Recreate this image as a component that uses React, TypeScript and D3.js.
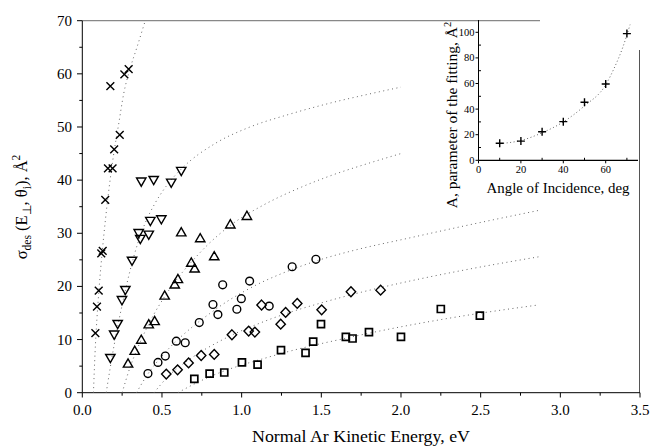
import React from "react";
import * as d3 from "d3";

// ---------- data ----------
const crossE = [0.082, 0.092, 0.103, 0.119, 0.128, 0.144, 0.161, 0.19, 0.2, 0.235, 0.176, 0.264, 0.291];
const crossS = [11.2, 16.2, 19.2, 26.2, 26.7, 36.3, 42.2, 42.2, 45.8, 48.5, 57.7, 59.9, 60.9];

const invTriE = [0.176, 0.2, 0.222, 0.249, 0.27, 0.312, 0.354, 0.364, 0.417, 0.427, 0.496, 0.37, 0.448, 0.558, 0.621];
const invTriS = [6.5, 10.9, 12.9, 17.4, 19.3, 24.8, 30.0, 28.9, 29.7, 32.3, 32.6, 39.7, 40.0, 39.5, 41.7];

const triE = [0.287, 0.329, 0.37, 0.417, 0.454, 0.517, 0.58, 0.6, 0.621, 0.684, 0.705, 0.74, 0.828, 0.929, 1.033];
const triS = [5.5, 7.9, 10.0, 12.9, 13.5, 18.3, 20.4, 21.4, 30.2, 24.5, 23.4, 29.1, 25.7, 31.7, 33.3];

const circE = [0.412, 0.475, 0.521, 0.59, 0.646, 0.734, 0.82, 0.851, 0.881, 0.97, 0.998, 1.05, 1.173, 1.317, 1.466];
const circS = [3.6, 5.7, 6.9, 9.7, 9.4, 13.2, 16.6, 14.7, 20.3, 15.7, 17.7, 21.0, 16.3, 23.7, 25.1];

const diaE = [0.527, 0.598, 0.667, 0.746, 0.828, 0.939, 1.044, 1.083, 1.125, 1.245, 1.276, 1.349, 1.502, 1.686, 1.872];
const diaS = [3.5, 4.3, 5.6, 7.0, 7.2, 10.9, 11.6, 11.4, 16.5, 12.9, 15.1, 16.8, 15.6, 19.0, 19.3];

const sqE = [0.703, 0.799, 0.891, 1.002, 1.1, 1.247, 1.401, 1.449, 1.498, 1.654, 1.696, 1.799, 2.0, 2.25, 2.495];
const sqS = [2.6, 3.6, 3.8, 5.7, 5.3, 8.0, 7.5, 9.6, 12.9, 10.5, 10.2, 11.4, 10.5, 15.75, 14.5];

// fitted curves (dotted)
const fitCrossE = [0.07, 0.08, 0.092, 0.105, 0.125, 0.145, 0.166, 0.195, 0.228, 0.26, 0.3, 0.343, 0.395];
const fitCrossS = [0, 7.5, 14, 19.5, 26.5, 32.5, 38, 44.5, 50.5, 56.3, 61, 65, 70];
const fitInvTriE = [0.15, 0.2, 0.25, 0.3, 0.35, 0.4, 0.45, 0.525, 0.625, 0.834, 1.044, 1.3, 1.556, 1.8, 2.0];
const fitInvTriS = [0, 9, 16.5, 23, 28.3, 32.3, 35.3, 38.8, 42.2, 46.9, 49.9, 52.4, 54.5, 56.2, 57.5];
const fitTriE = [0.25, 0.3, 0.35, 0.4, 0.45, 0.5, 0.6, 0.7, 0.8, 0.93, 1.136, 1.345, 1.555, 1.8, 2.0];
const fitTriS = [0, 4.8, 8.6, 11.9, 14.8, 17.3, 21.6, 25.1, 28.2, 31.5, 35.3, 38.3, 40.8, 43.2, 45];
const fitCircE = [0.34, 0.4, 0.5, 0.6, 0.7, 0.8, 0.9, 1.0, 1.1, 1.25, 1.49, 1.72, 2.035, 2.4, 2.88];
const fitCircS = [0, 3, 6.9, 10, 12.6, 14.9, 17.0, 18.8, 20.4, 22.4, 25.0, 26.9, 29.0, 31.4, 34.4];
const fitDiaE = [0.45, 0.55, 0.65, 0.75, 0.85, 0.95, 1.115, 1.3, 1.5, 1.75, 1.993, 2.4, 2.87];
const fitDiaS = [0, 3.4, 5.8, 7.8, 9.5, 11.0, 13.1, 15.1, 16.9, 18.9, 20.6, 23.1, 25.6];
const fitSqE = [0.6, 0.7, 0.8, 0.9, 1.0, 1.135, 1.3, 1.45, 1.6, 1.8, 2.0, 2.4, 2.86];
const fitSqS = [0, 1.6, 3.0, 4.2, 5.2, 6.4, 7.8, 8.9, 9.9, 11.2, 12.4, 14.5, 16.5];

// inset
const incAngle = [10, 20, 30, 40, 50, 60, 70];
const incA = [13.3, 15, 22.3, 30.2, 45.3, 59.6, 99];
const fitAngle = [10, 20, 30, 40, 50, 60, 64, 68, 71.5];
const fitA = [13, 15.5, 21.5, 30, 42.5, 59, 72, 88, 106];

const xTicks = [0, 0.5, 1, 1.5, 2, 2.5, 3, 3.5];
const yTicks = [0, 10, 20, 30, 40, 50, 60, 70];
const insetXTicks = [0, 20, 40, 60];
const insetYTicks = [0, 20, 40, 60, 80, 100];

// ---------- layout ----------
const W = 650, H = 446;
const x = d3.scaleLinear().domain([0, 3.5]).range([82.3, 640]);
const y = d3.scaleLinear().domain([0, 70]).range([392.7, 20.7]);
const ix = d3.scaleLinear().domain([0, 75]).range([478.5, 637.5]);
const iy = d3.scaleLinear().domain([0, 100]).range([160.3, 32.3]);

const serif = "Liberation Serif";

type Shape = "cross" | "invTri" | "tri" | "circle" | "diamond" | "square" | "plus";
function markerPath(s: Shape): string {
  switch (s) {
    case "cross": return "M-3.9,-3.9L3.9,3.9M-3.9,3.9L3.9,-3.9";
    case "invTri": return "M-4.7,-3.7L4.7,-3.7L0,4.5Z";
    case "tri": return "M-4.7,3.7L4.7,3.7L0,-4.5Z";
    case "diamond": return "M0,-4.9L4.7,0L0,4.9L-4.7,0Z";
    case "square": return "M-3.5,-3.5H3.5V3.5H-3.5Z";
    case "plus": return "M-4,0H4M0,-4V4";
    default: return "";
  }
}

const series: { e: number[]; s: number[]; shape: Shape }[] = [
  { e: crossE, s: crossS, shape: "cross" },
  { e: invTriE, s: invTriS, shape: "invTri" },
  { e: triE, s: triS, shape: "tri" },
  { e: circE, s: circS, shape: "circle" },
  { e: diaE, s: diaS, shape: "diamond" },
  { e: sqE, s: sqS, shape: "square" },
];
const fits = [
  [fitCrossE, fitCrossS],
  [fitInvTriE, fitInvTriS],
  [fitTriE, fitTriS],
  [fitCircE, fitCircS],
  [fitDiaE, fitDiaS],
  [fitSqE, fitSqS],
];

const line = d3
  .line<[number, number]>()
  .x((d) => x(d[0]))
  .y((d) => y(d[1]))
  .curve(d3.curveMonotoneX);
const iline = d3
  .line<[number, number]>()
  .x((d) => ix(d[0]))
  .y((d) => iy(d[1]))
  .curve(d3.curveMonotoneX);

export default function App() {
  const minorX = d3.range(0.25, 3.5, 0.5);
  const minorY = d3.range(5, 70, 10);
  const insetMinorY = d3.range(10, 101, 20);
  const insetMinorX = d3.range(10, 71, 20);
  const tf = { fontFamily: serif };
  return (
    <svg
      width={W}
      height={H}
      viewBox={`0 0 ${W} ${H}`}
      style={{ position: "absolute", left: 0, top: 0, background: "#fff", fontFamily: serif }}
    >
      <rect x={0} y={0} width={W} height={H} fill="#fff" />
      {/* frame */}
      <line x1={82.3} x2={540} y1={20.7} y2={20.7} stroke="#888" strokeWidth={1.2} />
      <line x1={639.5} x2={639.5} y1={50} y2={392.7} stroke="#555" strokeWidth={1} />
      {/* axes */}
      <line x1={82.3} x2={82.3} y1={20.7} y2={392.7} stroke="#000" strokeWidth={1} />
      <line x1={82.3} x2={640} y1={392.7} y2={392.7} stroke="#000" strokeWidth={1} />
      {yTicks.map((t) => (
        <g key={"yt" + t}>
          <line x1={77} x2={82.3} y1={y(t)} y2={y(t)} stroke="#000" />
          <text x={72} y={y(t) + 5} fontSize={15} textAnchor="end" style={tf}>{t}</text>
        </g>
      ))}
      {minorY.map((t) => (
        <line key={"ym" + t} x1={79.3} x2={82.3} y1={y(t)} y2={y(t)} stroke="#000" />
      ))}
      {xTicks.map((t) => (
        <g key={"xt" + t}>
          <line x1={x(t)} x2={x(t)} y1={392.7} y2={397.5} stroke="#000" />
          <text x={x(t)} y={415} fontSize={15} textAnchor="middle" style={tf}>{t.toFixed(1)}</text>
        </g>
      ))}
      {minorX.map((t) => (
        <line key={"xm" + t} x1={x(t)} x2={x(t)} y1={392.7} y2={395.7} stroke="#000" />
      ))}
      <text x={361} y={442} fontSize={16.5} textAnchor="middle" textLength={218} lengthAdjust="spacingAndGlyphs" style={tf}>
        Normal Ar Kinetic Energy, eV
      </text>
      <text transform="translate(27,207) rotate(-90)" fontSize={16.5} textAnchor="middle" style={tf}>
        <tspan>σ</tspan>
        <tspan fontSize={11.5} dy={4}>des</tspan>
        <tspan dy={-4}> (E</tspan>
        <tspan fontSize={11.5} dy={4}>⊥</tspan>
        <tspan dy={-4}>, θ</tspan>
        <tspan fontSize={11.5} dy={4}>i</tspan>
        <tspan dy={-4}>), Å</tspan>
        <tspan fontSize={11.5} dy={-7}>2</tspan>
      </text>

      {/* fits */}
      <defs>
        <clipPath id="plotclip">
          <rect x={82.3} y={19} width={560} height={374} />
        </clipPath>
      </defs>
      <g clipPath="url(#plotclip)">
        {fits.map(([e, s], i) => (
          <path
            key={"f" + i}
            d={line(e.map((v, j) => [v, s[j]] as [number, number])) || ""}
            fill="none"
            stroke="#666"
            strokeWidth={1}
            strokeDasharray="1 3.5"
          />
        ))}
      </g>

      {/* markers */}
      {series.map((sr, i) =>
        sr.e.map((e, j) =>
          sr.shape === "circle" ? (
            <circle key={`m${i}-${j}`} cx={x(e)} cy={y(sr.s[j])} r={3.9} fill="none" stroke="#000" strokeWidth={1.4} />
          ) : (
            <path
              key={`m${i}-${j}`}
              d={markerPath(sr.shape)}
              transform={`translate(${x(e)},${y(sr.s[j])})`}
              fill="none"
              stroke="#000"
              strokeWidth={sr.shape === "square" ? 1.7 : 1.4}
            />
          )
        )
      )}

      {/* inset */}
      <line x1={ix(0)} x2={ix(0)} y1={20} y2={iy(0)} stroke="#000" strokeWidth={1} />
      <line x1={ix(0)} x2={638} y1={iy(0)} y2={iy(0)} stroke="#000" strokeWidth={1.2} />
      {insetYTicks.map((t) => (
        <g key={"iyt" + t}>
          <line x1={ix(0) - 3} x2={ix(0)} y1={iy(t)} y2={iy(t)} stroke="#000" />
          <text x={ix(0) - 4} y={iy(t) + 3.5} fontSize={10.5} textAnchor="end" style={tf}>{t}</text>
        </g>
      ))}
      {insetMinorY.map((t) => (
        <line key={"iym" + t} x1={ix(0)} x2={ix(0) + 2.5} y1={iy(t)} y2={iy(t)} stroke="#000" />
      ))}
      {insetXTicks.map((t) => (
        <g key={"ixt" + t}>
          <line x1={ix(t)} x2={ix(t)} y1={iy(0)} y2={iy(0) + 3} stroke="#000" />
          <text x={ix(t)} y={172.5} fontSize={10.5} textAnchor="middle" style={tf}>{t}</text>
        </g>
      ))}
      {insetMinorX.map((t) => (
        <line key={"ixm" + t} x1={ix(t)} x2={ix(t)} y1={iy(0)} y2={iy(0) - 2.5} stroke="#000" />
      ))}
      <text x={558} y={193} fontSize={15} textAnchor="middle" textLength={143} lengthAdjust="spacingAndGlyphs" style={tf}>
        Angle of Incidence, deg
      </text>
      <text transform="translate(457,115) rotate(-90)" fontSize={15.5} textAnchor="middle" style={tf}>
        <tspan>A, parameter of the fitting, Å</tspan>
        <tspan fontSize={10.5} dy={-6}>2</tspan>
      </text>
      <path
        d={iline(fitAngle.map((a, j) => [a, fitA[j]] as [number, number])) || ""}
        fill="none"
        stroke="#666"
        strokeWidth={1}
        strokeDasharray="1 2.5"
      />
      {incAngle.map((a, j) => (
        <path
          key={"ip" + j}
          d={markerPath("plus")}
          transform={`translate(${ix(a)},${iy(incA[j])})`}
          fill="none"
          stroke="#000"
          strokeWidth={1.4}
        />
      ))}
    </svg>
  );
}
